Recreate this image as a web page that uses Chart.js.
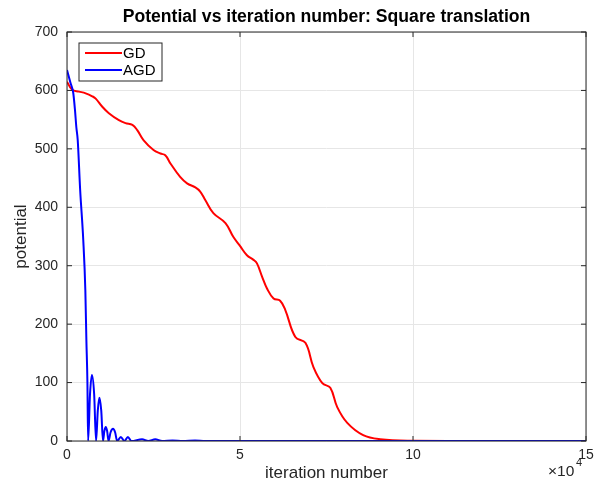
<!DOCTYPE html>
<html lang="en">
<head>
    <meta charset="UTF-8">
    <title>Potential vs iteration number</title>
    <style>
        body {
            margin: 0;
            padding: 0;
            background: #fff;
        }
        #chart {
            display: block;
        }
    </style>
    <script src="https://cdn.jsdelivr.net/npm/chart.js"></script>
</head>
<body>
    <canvas id="chart" width="595" height="487"></canvas>

    <script>
        // GD run (red) - iteration number and potential
        const gdIter = [0, 1500, 3500, 5400, 7300, 8300, 10200, 12100, 15000, 16900, 18900,
            20300, 22100, 25000, 27000, 28400, 29900, 32700, 34700, 37100, 38500, 40000,
            42300, 45800, 48100, 50100, 52000, 53900, 54900, 56400, 57800, 59700, 61600,
            63100, 66000, 68900, 71200, 73800, 76100, 78100, 81000, 85600, 90500, 100000,
            120000, 150000];
        const gdPotential = [615, 601, 598, 595, 590, 586, 572, 561, 549, 544, 541,
            532, 515, 498, 492, 489, 475, 452, 441, 434, 427, 412,
            390, 373, 349, 333, 318, 310, 304, 281, 261, 244, 240,
            224, 178, 168, 127, 99, 91, 58, 31, 10, 3, 0.3,
            0, 0];

        // AGD run (blue) - fast drop, then bouncing arches that die out
        const agdIter = [0, 1000, 1800, 2300, 2700, 3100, 3800, 4700, 5300, 5600, 5900, 6100,
            6650, 7200, 7850, 8400, 8900, 9350, 9900, 10400, 10800, 11200, 11600, 12000,
            12600, 13300, 13900, 14500, 15550, 16600, 17600, 18600, 21700, 23500, 25500,
            27500, 30500, 33500, 37000, 40000, 150000];
        const agdPotential = [635, 613, 596, 567, 537, 515, 430, 344, 258, 173, 100, 0,
            80, 113, 80, 0, 52, 74, 52, 0, 17, 24, 17, 0,
            15, 21, 15, 0, 7, 0, 7, 0, 3, 0, 3,
            0, 1, 0, 0.8, 0, 0];

        const xTicks = [0, 50000, 100000, 150000];
        const yTicks = [0, 100, 200, 300, 400, 500, 600, 700];

        const seriesNames = ['GD', 'AGD'];
        const seriesColors = ['#ff0000', '#0000ff'];

        const axisColor = '#262626';
        const fontName = '"Liberation Sans", Arial, Helvetica, sans-serif';

        function toPoints(xs, ys) {
            return xs.map((x, i) => ({ x: x, y: ys[i] }));
        }

        // box, inward ticks, title, legend and the x10^4 exponent, drawn the MATLAB way
        const matlabAxes = {
            id: 'matlabAxes',
            afterDraw(chart) {
                const ctx = chart.ctx;
                const a = chart.chartArea;
                const xs = chart.scales.x;
                const ys = chart.scales.y;
                ctx.save();
                ctx.strokeStyle = axisColor;
                ctx.lineWidth = 1;
                ctx.strokeRect(a.left, a.top, a.right - a.left, a.bottom - a.top);

                const tl = 5;
                ctx.beginPath();
                xTicks.forEach(v => {
                    const px = xs.getPixelForValue(v);
                    ctx.moveTo(px, a.bottom);
                    ctx.lineTo(px, a.bottom - tl);
                    ctx.moveTo(px, a.top);
                    ctx.lineTo(px, a.top + tl);
                });
                yTicks.forEach(v => {
                    const py = ys.getPixelForValue(v);
                    ctx.moveTo(a.left, py);
                    ctx.lineTo(a.left + tl, py);
                    ctx.moveTo(a.right, py);
                    ctx.lineTo(a.right - tl, py);
                });
                ctx.stroke();

                // title
                ctx.fillStyle = '#000';
                ctx.font = 'bold 17.6px ' + fontName;
                ctx.textAlign = 'center';
                ctx.textBaseline = 'middle';
                ctx.fillText('Potential vs iteration number: Square translation', (a.left + a.right) / 2, 17);

                // exponent label
                ctx.fillStyle = axisColor;
                ctx.font = '15.5px ' + fontName;
                ctx.textAlign = 'left';
                ctx.fillText('\u00d710', 548, 472);
                ctx.font = '11px ' + fontName;
                ctx.fillText('4', 576, 463);

                // legend
                const lx = 79, ly = 43, lw = 83, lh = 38;
                ctx.fillStyle = '#fff';
                ctx.fillRect(lx, ly, lw, lh);
                ctx.strokeStyle = axisColor;
                ctx.lineWidth = 1;
                ctx.strokeRect(lx, ly, lw, lh);
                ctx.font = '15px ' + fontName;
                seriesNames.forEach((name, i) => {
                    const y = ly + 10 + i * 17;
                    ctx.strokeStyle = seriesColors[i];
                    ctx.lineWidth = 2;
                    ctx.beginPath();
                    ctx.moveTo(lx + 6, y);
                    ctx.lineTo(lx + 43, y);
                    ctx.stroke();
                    ctx.fillStyle = '#000';
                    ctx.fillText(name, lx + 44, y + 1);
                });
                ctx.restore();
            }
        };

        const ctx = document.getElementById('chart').getContext('2d');
        new Chart(ctx, {
            type: 'line',
            data: {
                datasets: [
                    {
                        label: seriesNames[0],
                        data: toPoints(gdIter, gdPotential),
                        borderColor: seriesColors[0],
                        borderWidth: 2,
                        pointRadius: 0,
                        tension: 0.4,
                        order: 2
                    },
                    {
                        label: seriesNames[1],
                        data: toPoints(agdIter, agdPotential),
                        borderColor: seriesColors[1],
                        borderWidth: 2,
                        pointRadius: 0,
                        cubicInterpolationMode: 'monotone',
                        order: 1
                    }
                ]
            },
            options: {
                responsive: false,
                animation: false,
                devicePixelRatio: 1,
                layout: {
                    padding: { left: 0, top: 32, right: 9, bottom: 0 }
                },
                plugins: {
                    legend: { display: false },
                    tooltip: { enabled: false },
                    title: { display: false }
                },
                scales: {
                    x: {
                        type: 'linear',
                        min: 0,
                        max: 150000,
                        afterBuildTicks: scale => {
                            scale.ticks = xTicks.map(v => ({ value: v }));
                        },
                        afterFit: scale => {
                            scale.height = 46;
                            scale.paddingLeft = 0;
                            scale.paddingRight = 0;
                        },
                        grid: { color: '#e6e6e6', drawTicks: false },
                        border: { display: false },
                        ticks: {
                            color: axisColor,
                            padding: 6,
                            maxRotation: 0,
                            font: { family: fontName, size: 14 },
                            callback: v => v / 10000
                        },
                        title: {
                            display: true,
                            text: 'iteration number',
                            color: axisColor,
                            font: { family: fontName, size: 17 },
                            padding: { top: 0, bottom: 3 }
                        }
                    },
                    y: {
                        min: 0,
                        max: 700,
                        afterBuildTicks: scale => {
                            scale.ticks = yTicks.map(v => ({ value: v }));
                        },
                        afterFit: scale => {
                            scale.width = 67;
                            scale.paddingTop = 0;
                            scale.paddingBottom = 0;
                        },
                        grid: { color: '#e6e6e6', drawTicks: false },
                        border: { display: false },
                        ticks: {
                            color: axisColor,
                            padding: 9,
                            font: { family: fontName, size: 14 }
                        },
                        title: {
                            display: true,
                            text: 'potential',
                            color: axisColor,
                            font: { family: fontName, size: 17 },
                            padding: { top: 11, bottom: 0 }
                        }
                    }
                }
            },
            plugins: [matlabAxes]
        });
    </script>
</body>
</html>
